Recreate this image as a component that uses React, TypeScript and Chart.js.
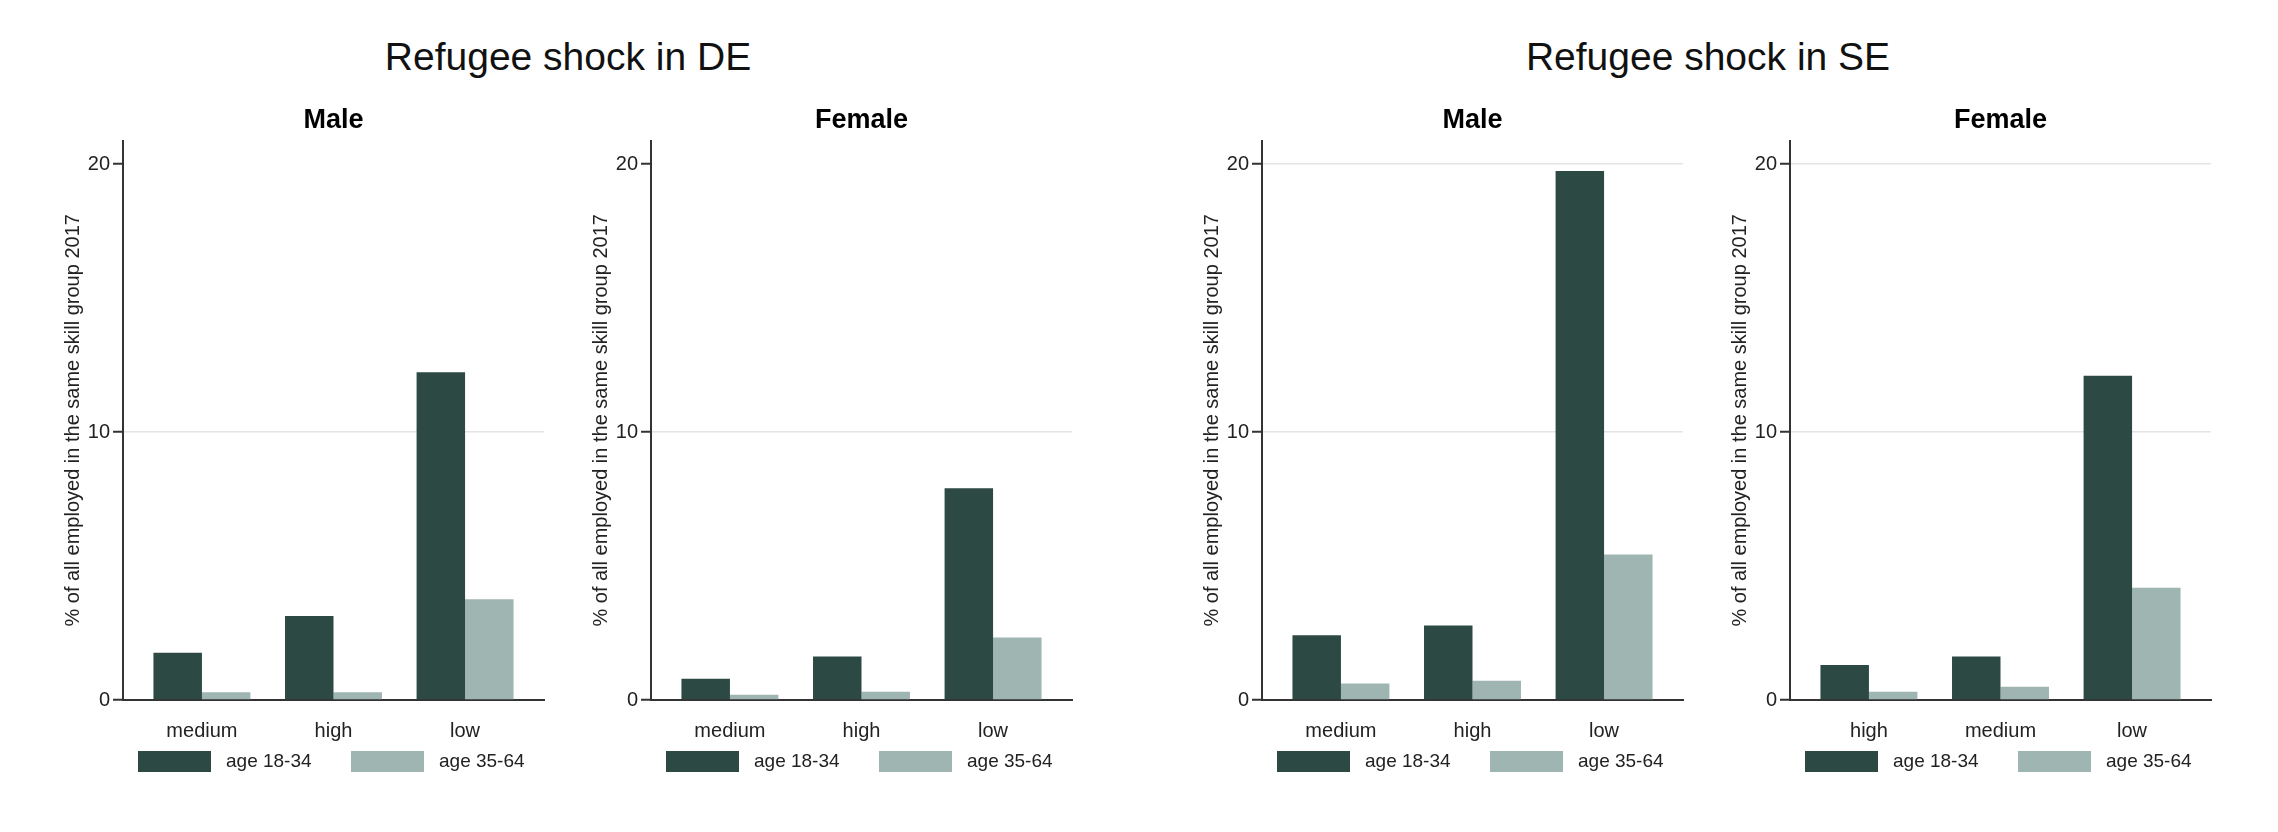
import { useEffect, useRef } from 'react';
import { Chart, registerables } from 'chart.js';

Chart.register(...registerables);

const FONT = '"Liberation Sans", Arial, sans-serif';
Chart.defaults.font.family = FONT;

const seriesLabels = ['age 18-34', 'age 35-64'];
const seriesColors = ['#2c4944', '#9fb5b1'];
const yTicks = [0, 10, 20];
const yTitle = '% of all employed in the same skill group 2017';

const deMaleSkills = ['medium', 'high', 'low'];
const deMaleYoung = [1.76, 3.13, 12.23];
const deMaleOld = [0.29, 0.29, 3.76];

const deFemaleSkills = ['medium', 'high', 'low'];
const deFemaleYoung = [0.79, 1.62, 7.9];
const deFemaleOld = [0.2, 0.31, 2.33];

const seMaleSkills = ['medium', 'high', 'low'];
const seMaleYoung = [2.42, 2.78, 19.74];
const seMaleOld = [0.62, 0.72, 5.43];

const seFemaleSkills = ['high', 'medium', 'low'];
const seFemaleYoung = [1.31, 1.62, 12.1];
const seFemaleOld = [0.31, 0.49, 4.19];

// legend drawn under the x axis, Stata style (box, gap, label)
const legendPlugin = {
  id: 'stataLegend',
  afterDraw(chart: Chart) {
    const { ctx, chartArea } = chart;
    const cx = (chartArea.left + chartArea.right) / 2;
    const top = chartArea.bottom + 51;
    const offsets = [-195.5, 17.5];
    ctx.save();
    ctx.font = `19px ${FONT}`;
    ctx.textBaseline = 'middle';
    ctx.textAlign = 'left';
    chart.data.datasets.forEach((ds: any, i: number) => {
      const x = cx + offsets[i];
      ctx.fillStyle = ds.backgroundColor;
      ctx.fillRect(x, top, 73, 21);
      ctx.fillStyle = '#222';
      ctx.fillText(ds.label, x + 88, top + 10.5);
    });
    ctx.restore();
  },
};

interface PanelProps {
  title: string;
  skills: string[];
  young: number[];
  old: number[];
  axisX: number;
  grid20: boolean;
}

function Panel({ title, skills, young, old, axisX, grid20 }: PanelProps) {
  const canvasRef = useRef<HTMLCanvasElement>(null);

  useEffect(() => {
    if (!canvasRef.current) return;
    const series = [young, old];
    const chart = new Chart(canvasRef.current, {
      type: 'bar',
      data: {
        datasets: series.map((vals, i) => ({
          label: seriesLabels[i],
          data: vals.map((v, j) => ({ x: j, y: v })),
          backgroundColor: seriesColors[i],
          borderWidth: 0,
          categoryPercentage: 0.737,
          barPercentage: 1,
        })),
      },
      options: {
        animation: false,
        responsive: false,
        layout: { padding: { left: 38, right: 39, top: 0, bottom: 82 } },
        plugins: {
          legend: { display: false },
          tooltip: { enabled: false },
          title: {
            display: true,
            text: title,
            fullSize: false,
            color: '#000',
            font: { size: 27, weight: 'bold' },
            padding: { top: 104.4, bottom: 3.9 },
          },
        },
        scales: {
          x: {
            type: 'linear',
            min: -0.6,
            max: 2.6,
            bounds: 'data',
            offset: false,
            grid: { display: false },
            border: { display: true, color: '#333', width: 2 },
            afterBuildTicks: (s: any) => {
              s.ticks = skills.map((_, i) => ({ value: i }));
            },
            afterFit: (s: any) => {
              s.height = 50;
            },
            ticks: {
              callback: (v: any) => skills[v],
              padding: 11,
              color: '#222',
              autoSkip: false,
              maxRotation: 0,
              font: { size: 20 },
            },
          },
          y: {
            type: 'linear',
            min: 0,
            max: 20.87,
            bounds: 'data',
            afterBuildTicks: (s: any) => {
              s.ticks = yTicks.map((v) => ({ value: v }));
            },
            afterFit: (s: any) => {
              s.width = 62;
            },
            grid: {
              color: (c: any) => {
                const v = c.tick ? c.tick.value : 0;
                if (v === 0) return 'rgba(0,0,0,0)';
                if (v === 20 && !grid20) return 'rgba(0,0,0,0)';
                return '#e4e4e4';
              },
              lineWidth: 1.5,
              tickColor: '#333',
              tickWidth: 2,
              tickLength: 10,
            },
            border: { display: true, color: '#333', width: 2 },
            ticks: { padding: 3, color: '#222', font: { size: 20 } },
            title: {
              display: true,
              text: yTitle,
              color: '#222',
              padding: 0,
              font: { size: 20 },
            },
          },
        },
      },
      plugins: [legendPlugin],
    } as any);
    return () => chart.destroy();
  }, [title, skills, young, old, grid20]);

  return (
    <canvas
      ref={canvasRef}
      width={560}
      height={832}
      style={{ position: 'absolute', left: axisX - 100, top: 0, width: 560, height: 832 }}
    />
  );
}

function MainTitle({ text, centerX }: { text: string; centerX: number }) {
  return (
    <div
      style={{
        position: 'absolute',
        left: centerX - 300,
        top: 37,
        width: 600,
        textAlign: 'center',
        fontFamily: FONT,
        fontSize: 39,
        lineHeight: '39px',
        color: '#111',
      }}
    >
      {text}
    </div>
  );
}

export default function App() {
  return (
    <div
      style={{
        position: 'absolute',
        left: 0,
        top: 0,
        width: 2278,
        height: 832,
        background: '#fff',
        overflow: 'hidden',
      }}
    >
      <MainTitle text="Refugee shock in DE" centerX={568} />
      <MainTitle text="Refugee shock in SE" centerX={1708} />
      <Panel title="Male" skills={deMaleSkills} young={deMaleYoung} old={deMaleOld} axisX={123} grid20={false} />
      <Panel title="Female" skills={deFemaleSkills} young={deFemaleYoung} old={deFemaleOld} axisX={651} grid20={false} />
      <Panel title="Male" skills={seMaleSkills} young={seMaleYoung} old={seMaleOld} axisX={1262} grid20={true} />
      <Panel title="Female" skills={seFemaleSkills} young={seFemaleYoung} old={seFemaleOld} axisX={1790} grid20={true} />
    </div>
  );
}
